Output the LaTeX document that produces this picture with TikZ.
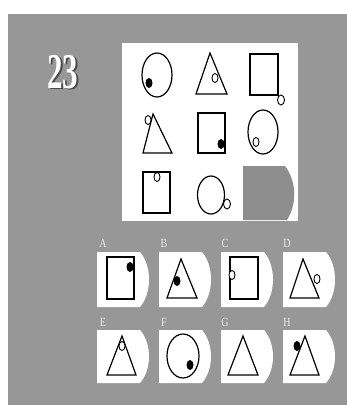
\documentclass[tikz,border=0pt]{standalone}
\usepackage{fontspec}
\newfontfamily\serifnum{Liberation Serif}
\definecolor{bg}{HTML}{979797}
\definecolor{cellgray}{HTML}{8E8E8E}
\newcommand\optcard[3]{%
  \fill[white] (#1,#2) -- (#1+43,#2) .. controls (#1+55,#2+14) and (#1+55,#3-14) .. (#1+43,#3) -- (#1,#3) -- cycle;}
\begin{document}
\begin{tikzpicture}[x=1pt,y=-1pt,
  shp/.style={draw=black,line width=1.2pt},
  blackdot/.style={fill=black},
  ring/.style={draw=black,fill=white,line width=0.9pt},
  lbl/.style={text=white!92!black,font=\serifnum\fontsize{12.5}{12.5}\selectfont,xscale=0.8,inner sep=0pt}]
\useasboundingbox (0,0) rectangle (347,405);
\fill[white] (0,0) rectangle (347,405);
\fill[bg] (8,14) rectangle (347,405);
% number
\node[text=black!70,font=\serifnum\bfseries\fontsize{50}{50}\selectfont,xscale=0.62,inner sep=0pt] (numshadow) at (64.5,73.5) {23};
\node[text=white,font=\serifnum\bfseries\fontsize{50}{50}\selectfont,xscale=0.62,inner sep=0pt] (num) at (63,72) {23};
% matrix box
\fill[white] (122,43) rectangle (298,221);
% row 1
\draw[shp] (157,75) ellipse [x radius=15pt, y radius=22pt];
\fill[blackdot] (149,83) ellipse [x radius=3.5pt, y radius=5pt];
\draw[shp] (210,53) -- (196,94) -- (227,94) -- cycle;
\draw[ring] (215,78) ellipse [x radius=3pt, y radius=4.5pt];
\draw[shp] (250,54) rectangle (278,95);
\draw[ring] (281,100) ellipse [x radius=3.5pt, y radius=5pt];
% row 2
\draw[shp] (153,114) -- (143,153) -- (172,153) -- cycle;
\draw[ring] (148,120) ellipse [x radius=3pt, y radius=4.5pt];
\draw[shp] (198,113) rectangle (225,153);
\fill[blackdot] (221,144) ellipse [x radius=3.5pt, y radius=5pt];
\draw[shp] (263,132) ellipse [x radius=15pt, y radius=22pt];
\draw[ring] (256,142) ellipse [x radius=3pt, y radius=4.5pt];
% row 3
\draw[shp] (143,172) rectangle (170,213);
\draw[ring] (157,177) ellipse [x radius=3pt, y radius=4.5pt];
\draw[shp] (211,195) ellipse [x radius=13.5pt, y radius=19pt];
\draw[ring] (227,204) ellipse [x radius=3.5pt, y radius=5pt];
\fill[cellgray] (243,166) -- (285,166) .. controls (297,182) and (297,204) .. (287,220) -- (243,220) -- cycle;
% option cards
\optcard{97}{252}{307}
\optcard{159}{252}{307}
\optcard{221}{252}{307}
\optcard{283}{252}{307}
\optcard{97}{330}{383}
\optcard{159}{330}{383}
\optcard{221}{330}{383}
\optcard{283}{330}{383}
% labels
\node[lbl] (la) at (103,243) {A};
\node[lbl] (lb) at (164,243) {B};
\node[lbl] (lc) at (225,243) {C};
\node[lbl] (ld) at (287,243) {D};
\node[lbl] (le) at (103,322) {E};
\node[lbl] (lf) at (164,322) {F};
\node[lbl] (lg) at (225,322) {G};
\node[lbl] (lh) at (287,322) {H};
% A
\draw[shp] (107,257) rectangle (134,299);
\fill[blackdot] (130,267) ellipse [x radius=3.5pt, y radius=5pt];
% B
\draw[shp] (181,259) -- (167,298) -- (197,298) -- cycle;
\fill[blackdot] (177,281) ellipse [x radius=3.5pt, y radius=5pt];
% C
\draw[shp] (230,257) rectangle (258,299);
\draw[ring] (232,275) ellipse [x radius=3pt, y radius=4.5pt];
% D
\draw[shp] (303,259) -- (290,298) -- (319,298) -- cycle;
\draw[ring] (317,279) ellipse [x radius=3pt, y radius=4.5pt];
% E
\draw[shp] (122,336) -- (107,375) -- (136,375) -- cycle;
\draw[ring] (122,346) ellipse [x radius=3pt, y radius=4.5pt];
% F
\draw[shp] (183,356) ellipse [x radius=16pt, y radius=22pt];
\fill[blackdot] (190,365) ellipse [x radius=3.5pt, y radius=5pt];
% G
\draw[shp] (243,336) -- (228,375) -- (258,375) -- cycle;
% H
\draw[shp] (305,336) -- (290,375) -- (319,375) -- cycle;
\fill[blackdot] (297,346) ellipse [x radius=3.5pt, y radius=5pt];
\end{tikzpicture}
\end{document}
